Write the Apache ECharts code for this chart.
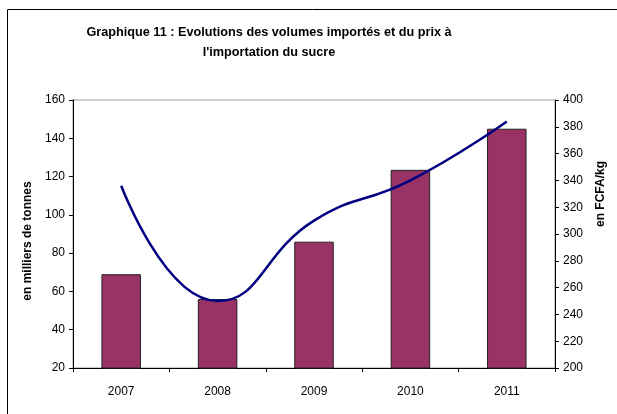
<!DOCTYPE html>
<html>
<head>
<meta charset="utf-8">
<title>Graphique 11</title>
<script src="https://cdn.jsdelivr.net/npm/echarts@6/dist/echarts.min.js"></script>
<style>
  html, body { margin: 0; padding: 0; background: #fff; }
  #chart { width: 617px; height: 414px; }
</style>
</head>
<body>
<div id="chart"></div>
<script>
// données
const years = ['2007', '2008', '2009', '2010', '2011'];
const volumes = [69, 56, 86, 123.5, 145];       // en milliers de tonnes
const prix = [336, 250, 310, 340, 384];          // en FCFA/kg

const font = 'Liberation Sans, Arial, sans-serif';
const chart = echarts.init(document.getElementById('chart'));

chart.setOption({
  animation: false,
  backgroundColor: '#fff',
  textStyle: { fontFamily: font },
  graphic: [{
    type: 'rect',
    left: 5, top: 7,
    shape: { width: 640, height: 440 },
    style: { fill: 'none', stroke: '#000', lineWidth: 1 },
    silent: true
  }],
  title: {
    text: "Graphique 11 : Evolutions des volumes importés et du prix à\nl'importation du sucre",
    left: 264,
    textAlign: 'center',
    top: 17,
    textStyle: { fontSize: 12.7, fontWeight: 'bold', color: '#000', lineHeight: 20, fontFamily: font }
  },
  grid: {
    left: 73, right: 62, top: 100, bottom: 46,
    show: true, borderColor: '#999', borderWidth: 1
  },
  xAxis: {
    type: 'category',
    data: years,
    axisLine: { lineStyle: { color: '#000', width: 1 } },
    axisTick: { show: true, length: 4, lineStyle: { color: '#000' } },
    axisLabel: { color: '#000', fontSize: 12, margin: 18 }
  },
  yAxis: [{
    type: 'value',
    min: 20, max: 160, interval: 20,
    name: 'en milliers de tonnes',
    nameLocation: 'middle',
    nameRotate: 90,
    nameGap: 30,
    nameTextStyle: { fontSize: 12, fontWeight: 'bold', color: '#000', padding: [0, 14, 0, 0] },
    axisLine: { show: true, lineStyle: { color: '#000' } },
    axisTick: { show: true, length: 4, lineStyle: { color: '#000' } },
    axisLabel: { color: '#000', fontSize: 12, margin: 8 },
    splitLine: { show: false }
  }, {
    type: 'value',
    position: 'right',
    min: 200, max: 400, interval: 20,
    name: 'en FCFA/kg',
    nameLocation: 'middle',
    nameRotate: 90,
    nameGap: 40,
    nameTextStyle: { fontSize: 12, fontWeight: 'bold', color: '#000', padding: [0, 0, 0, 80] },
    axisLine: { show: true, lineStyle: { color: '#000' } },
    axisTick: { show: true, length: 4, lineStyle: { color: '#000' } },
    axisLabel: { color: '#000', fontSize: 12, margin: 8 },
    splitLine: { show: false }
  }],
  series: [{
    name: 'Volumes importés',
    type: 'bar',
    data: volumes,
    barWidth: '41%',
    itemStyle: { color: '#993366', borderColor: '#222', borderWidth: 1 }
  }, {
    name: 'Prix à l\'importation',
    type: 'line',
    yAxisIndex: 1,
    data: prix,
    smooth: 0.5,
    symbol: 'none',
    lineStyle: { color: '#000080', width: 2.5 }
  }]
});
</script>
</body>
</html>
